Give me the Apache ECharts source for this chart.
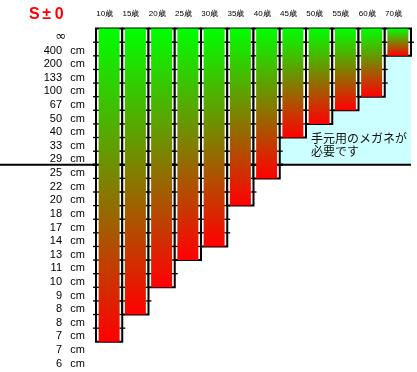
<!DOCTYPE html>
<html>
<head>
<meta charset="utf-8">
<script src="https://cdn.jsdelivr.net/npm/echarts@6/dist/echarts.min.js"></script>
<style>html,body{margin:0;padding:0;background:#fff}#c{width:417px;height:372px}</style>
</head>
<body>
<div id="c"></div>
<script>
// Age columns
var ages = ['10歳','15歳','20歳','25歳','30歳','35歳','40歳','45歳','50歳','55歳','60歳','70歳'];
// Near point of each age, as index of the distance band where the bar ends (band units from ∞)
var nearBand = [23, 21, 19, 17, 16, 13, 11, 8, 7, 6, 5, 2];
// Distance band labels (top to bottom)
var distNums = ['∞','400','200','133','100','67','50','40','33','29','25','22','20','18','17','14','13','11','10','9','8','8','7','7','6'];
// Boundary where reading glasses become necessary (between 29 cm and 25 cm)
var readingLimit = [10];
var noteText = '手元用のメガネが\n必要です';

var chart = echarts.init(document.getElementById('c'), null, {renderer: 'canvas'});

var firstNeed = nearBand.findIndex(function (b) { return b <= readingLimit[0]; });

var option = {
  animation: false,
  backgroundColor: '#fff',
  title: {
    text: '{a|S}{a|±}{a|0}',
    left: 23, top: 2,
    textStyle: {
      rich: { a: { width: 12.5, align: 'center', fontSize: 16, color: '#ff0000', fontFamily: 'Liberation Sans' } }
    }
  },
  grid: { left: 96, right: 6, top: 28.6, bottom: 3 },
  xAxis: {
    type: 'category', data: ages, position: 'top',
    axisLine: { show: false }, axisTick: { show: false },
    axisLabel: { fontSize: 8, color: '#000', margin: 11, padding: [0, 9, 0, 0], fontFamily: 'Liberation Sans', interval: 0 }
  },
  yAxis: [
    { type: 'value', min: 0, max: 25, inverse: true, show: false },
    {
      type: 'category', data: distNums, inverse: true, position: 'left',
      axisLine: { show: false }, axisTick: { show: false }, splitLine: { show: false },
      axisLabel: {
        interval: 0, margin: 11, padding: [3, 0, 0, 0],
        formatter: function (v, idx) {
          var n = distNums[idx];
          return n === '∞' ? '{inf|∞}{c2| }' : '{n|' + n + '}{c|cm}';
        },
        rich: {
          n: { width: 30, align: 'right', fontSize: 11, color: '#000', fontFamily: 'Liberation Sans' },
          c: { width: 23, align: 'right', fontSize: 11, color: '#000', fontFamily: 'Liberation Sans' },
          inf: { width: 34, align: 'right', fontSize: 13, color: '#000', fontFamily: 'DejaVu Sans' },
          c2: { width: 19, align: 'right', fontSize: 11 }
        }
      }
    }
  ],
  graphic: [{
    type: 'text', left: 311, top: 132, z: 100,
    style: { text: noteText, font: '12px "Noto Sans CJK JP"', fill: '#111', lineHeight: 13 }
  }],
  series: [
    { // cyan zone
      type: 'custom', yAxisIndex: 0, z: 1,
      data: [[firstNeed, readingLimit[0]]],
      renderItem: function (params, api) {
        var i = api.value(0), v = api.value(1);
        var w = api.size([1, 0])[0];
        var p0 = api.coord([i, 0]), p1 = api.coord([i, v]);
        var cs = params.coordSys;
        var xl = p0[0] - w / 2;
        return { type: 'rect', shape: { x: xl, y: p0[1], width: cs.x + cs.width - xl, height: p1[1] - p0[1] }, style: { fill: '#ccffff' } };
      }
    },
    { // horizontal limit line
      type: 'custom', yAxisIndex: 0, z: 2,
      data: [[0, readingLimit[0]]],
      renderItem: function (params, api) {
        var y = api.coord([0, api.value(1)])[1];
        var cs = params.coordSys;
        return { type: 'line', shape: { x1: 0, y1: y, x2: cs.x + cs.width, y2: y }, style: { stroke: '#000', lineWidth: 2.2 } };
      }
    },
    { // column boxes with ticks
      type: 'custom', yAxisIndex: 0, z: 3,
      data: nearBand.map(function (b, i) { return [i, b]; }),
      renderItem: function (params, api) {
        var i = api.value(0), b = api.value(1);
        var w = api.size([1, 0])[0];
        var p0 = api.coord([i, 0]), p1 = api.coord([i, b]);
        var xl = p0[0] - w / 2, xr = p0[0] + w / 2;
        var ch = [{ type: 'rect', shape: { x: xl, y: p0[1], width: w, height: p1[1] - p0[1] }, style: { fill: '#fff', stroke: '#000', lineWidth: 2 } }];
        for (var k = 1; k < b; k++) {
          var y = api.coord([i, k])[1];
          var bold = (k === readingLimit[0]);
          var half = bold ? 3.5 : 3;
          var lw = bold ? 2.4 : 1.3;
          [xl, xr].forEach(function (x) {
            ch.push({ type: 'line', shape: { x1: x - half, y1: y, x2: x + half, y2: y }, style: { stroke: '#000', lineWidth: lw } });
          });
        }
        return { type: 'group', children: ch };
      }
    },
    { // gradient bars
      type: 'bar', yAxisIndex: 0, z: 4, barWidth: 21,
      data: nearBand,
      itemStyle: {
        color: new echarts.graphic.LinearGradient(0, 0, 0, 1, [
          { offset: 0, color: '#00ff00' },
          { offset: 1, color: '#ff0000' }
        ])
      }
    }
  ]
};
chart.setOption(option);
</script>
</body>
</html>
